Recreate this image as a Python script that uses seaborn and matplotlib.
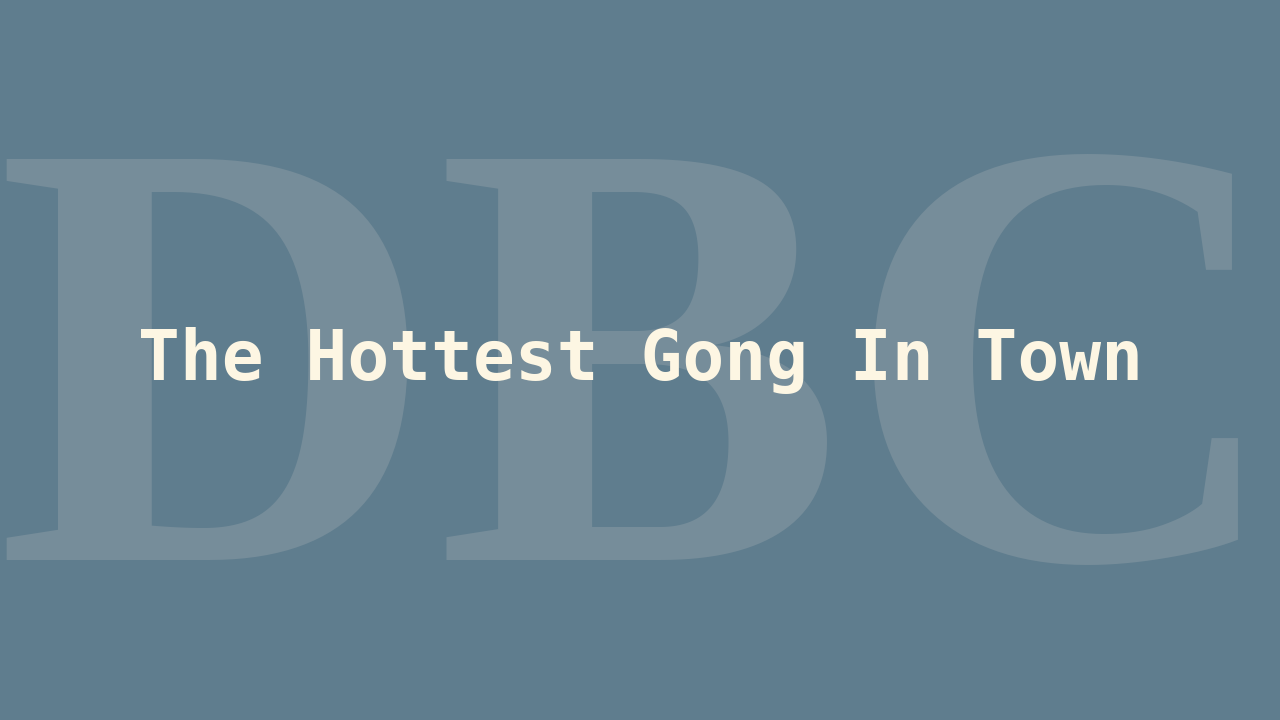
import matplotlib
matplotlib.use("Agg")
import matplotlib.pyplot as plt
import seaborn as sns

# текст карточки
watermark = "DBC"
title = "The Hottest Gong In Town"

bg_color = "#5f7d8e"
mark_color = "#768d9a"
title_color = "#fdf6e3"

sns.set_theme(style="white", rc={"axes.facecolor": bg_color, "figure.facecolor": bg_color})

fig, ax = plt.subplots(figsize=(12.8, 7.2), dpi=100)
fig.subplots_adjust(0, 0, 1, 1)
ax.set_xlim(0, 1280)
ax.set_ylim(720, 0)
ax.set_axis_off()

# большие буквы на фоне
ax.text(640, 412, watermark, ha="center", va="center", fontsize=440,
        family="Liberation Serif", weight="bold", color=mark_color)

# заголовок
ax.text(640, 361, title, ha="center", va="center", fontsize=50,
        family="DejaVu Sans Mono", weight="bold", color=title_color)

fig.savefig("out.png", dpi=100, facecolor=bg_color)
